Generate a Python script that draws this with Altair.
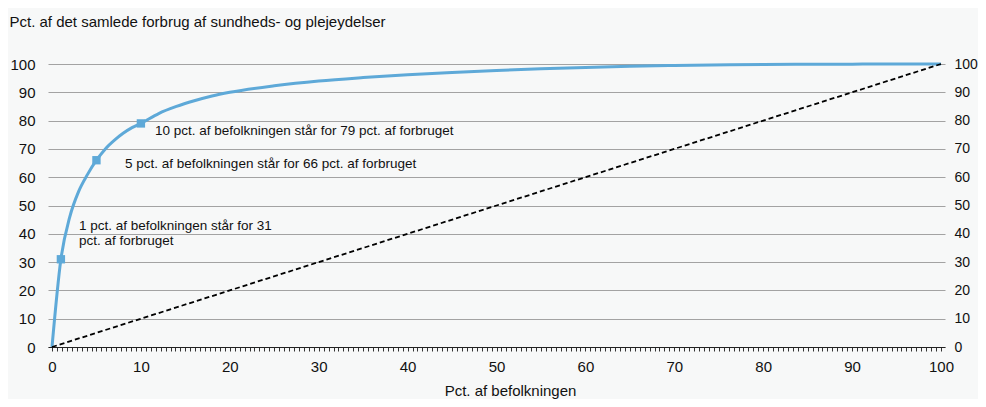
import altair as alt
import pandas as pd

# Data
pop = [0, 1, 2, 3, 4, 5, 6, 7, 8, 9, 10, 12, 14, 16, 18, 20, 25, 30, 35, 40,
       45, 50, 55, 60, 65, 70, 80, 90, 100]
share = [0, 31, 46, 55, 61, 66, 70, 73, 75.5, 77.5, 79, 82.5, 85, 87, 88.7, 90,
         92.3, 94, 95.2, 96.2, 97, 97.7, 98.3, 98.8, 99.2, 99.5, 99.8, 99.95, 100]
marker_x = [1, 5, 10]
marker_y = [31, 66, 79]
diag_x = [0, 100]
diag_y = [0, 100]
y_ticks = [0, 10, 20, 30, 40, 50, 60, 70, 80, 90, 100]
x_minor_ticks = [k * 5 / 9 for k in range(181)]

label_10 = "10 pct. af befolkningen står for 79 pct. af forbruget"
label_5 = "5 pct. af befolkningen står for 66 pct. af forbruget"
label_1a = "1 pct. af befolkningen står for 31"
label_1b = "pct. af forbruget"

FONT = "Liberation Sans"
LINE_COLOR = "#5ea9d8"
FS_AX = 15
FS_NOTE = 13.5
FS_TITLE = 15

curve_df = pd.DataFrame({"x": pop, "y": share})
marker_df = pd.DataFrame({"x": marker_x, "y": marker_y})
diag_df = pd.DataFrame({"x": diag_x, "y": diag_y})

x_scale = alt.Scale(domain=[-0.45, 100.45], nice=False, zero=False)
y_scale = alt.Scale(domain=[0, 100], nice=False)

x_axis = alt.Axis(
    values=x_minor_ticks,
    labelExpr="abs(datum.value - round(datum.value / 10) * 10) < 0.01 ? format(round(datum.value), 'd') : ''",
    labelOverlap=False,
    labelBound=False,
    labelFlush=False,
    grid=False,
    domain=True,
    domainColor="#222222",
    domainWidth=1,
    ticks=True,
    tickSize=4,
    tickColor="#333333",
    tickWidth=1,
    labelPadding=8,
    labelFont=FONT,
    labelFontSize=FS_AX,
    labelColor="#111111",
    title="Pct. af befolkningen",
    titleFont=FONT,
    titleFontSize=FS_TITLE,
    titleFontWeight="normal",
    titleColor="#111111",
    titleAnchor="start",
    titleAlign="center",
    titleBaseline="alphabetic",
    titleX=462,
    titleY=48,
)

y_left_axis = alt.Axis(
    values=y_ticks,
    orient="left",
    grid=True,
    gridColor="#a3a3a3",
    gridWidth=1,
    domain=False,
    ticks=False,
    labelPadding=13,
    labelFont=FONT,
    labelFontSize=FS_AX,
    labelColor="#111111",
    title="Pct. af det samlede forbrug af sundheds- og plejeydelser",
    titleFont=FONT,
    titleFontSize=FS_TITLE,
    titleFontWeight="normal",
    titleColor="#111111",
    titleAngle=0,
    titleAlign="left",
    titleBaseline="alphabetic",
    titleAnchor="start",
    titleX=-39,
    titleY=-38,
)

y_right_axis = alt.Axis(
    values=y_ticks,
    orient="right",
    grid=False,
    domain=False,
    ticks=False,
    labelPadding=9,
    labelFont=FONT,
    labelFontSize=14,
    labelColor="#111111",
    title=None,
)

X = alt.X("x:Q", scale=x_scale, axis=x_axis)
YL = alt.Y("y:Q", scale=y_scale, axis=y_left_axis)
YR = alt.Y("y:Q", scale=y_scale, axis=y_right_axis)

curve = alt.Chart(curve_df).mark_line(
    color=LINE_COLOR, strokeWidth=3, interpolate="monotone"
).encode(x=X, y=YL)

markers = alt.Chart(marker_df).mark_point(
    shape="square", filled=True, size=70, color=LINE_COLOR, opacity=1
).encode(x=X, y=YL)


def note(px, py, text, dx, dy):
    df = pd.DataFrame({"x": [px], "y": [py], "t": [text]})
    return alt.Chart(df).mark_text(
        align="left", baseline="alphabetic", dx=dx, dy=dy,
        font=FONT, fontSize=FS_NOTE, color="#111111"
    ).encode(x=X, y=YL, text="t:N")


t10 = note(marker_x[2], marker_y[2], label_10, 14, 11.6)
t5 = note(marker_x[1], marker_y[1], label_5, 28.6, 7.5)
t1a = note(marker_x[0], marker_y[0], label_1a, 18, -29)
t1b = note(marker_x[0], marker_y[0], label_1b, 18, -14)

left = alt.layer(curve, markers, t10, t5, t1a, t1b)

diag = alt.Chart(diag_df).mark_line(
    color="#000000", strokeWidth=1.8, strokeDash=[5, 3]
).encode(x=X, y=YR)

chart = alt.layer(left, diag).resolve_scale(y="independent").properties(
    width=897,
    height=283,
    autosize="none",
    padding={"left": 40, "top": 56, "right": 33, "bottom": 52},
).configure(
    background="#f7f8f8",
    font=FONT,
).configure_view(stroke=None)

chart.save("out.html", embed_options={"renderer": "svg", "actions": False})
